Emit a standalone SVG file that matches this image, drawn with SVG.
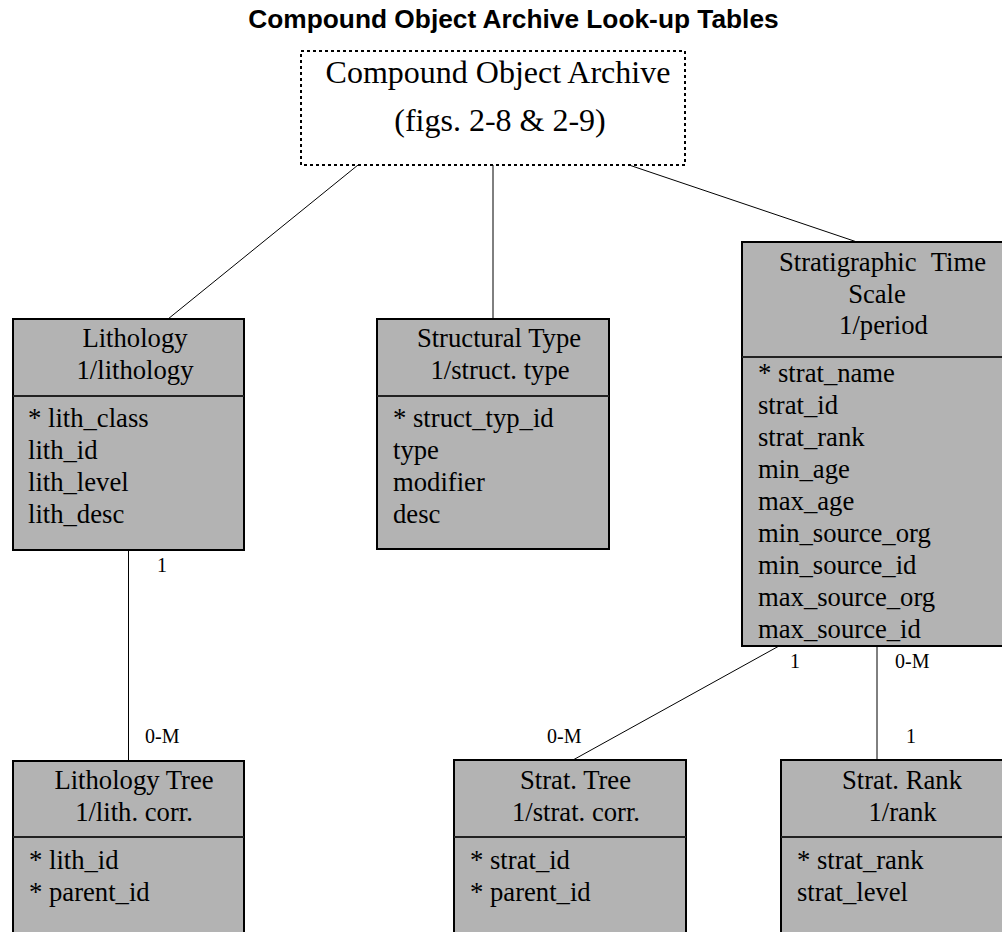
<svg xmlns="http://www.w3.org/2000/svg" width="1002" height="932" viewBox="0 0 1002 932">
<style>
.box{fill:#b3b3b3;stroke:#000;stroke-width:2}
.div{stroke:#222;stroke-width:2}
.t{font-family:"Liberation Serif","Times New Roman",serif;font-size:26.67px;fill:#000}
.c{text-anchor:middle}
.lbl{font-family:"Liberation Serif","Times New Roman",serif;font-size:20px;fill:#000}
.title{font-family:"Liberation Sans",Arial,sans-serif;font-size:26.3px;font-weight:bold;fill:#000;text-anchor:middle}
.conn{stroke:#000;stroke-width:1;fill:none}
</style>
<rect width="1002" height="932" fill="#fff"/>
<text class="title" x="513.5" y="28">Compound Object Archive Look-up Tables</text>

<g id="connectors">
<line class="conn" x1="358" y1="165" x2="168" y2="319"/>
<line class="conn" x1="493" y1="165" x2="493" y2="319"/>
<line class="conn" x1="629" y1="165" x2="857" y2="242"/>
<line class="conn" x1="128.5" y1="550" x2="128.5" y2="761"/>
<line class="conn" x1="779" y1="646" x2="573" y2="760"/>
<line class="conn" x1="877" y1="646" x2="877" y2="760"/>
<text class="lbl c" x="162" y="572">1</text>
<text class="lbl" x="145" y="743">0-M</text>
<text class="lbl c" x="795" y="668">1</text>
<text class="lbl" x="895" y="668">0-M</text>
<text class="lbl" x="547" y="743">0-M</text>
<text class="lbl c" x="911" y="743">1</text>
</g>

<g id="archive">
<rect x="301" y="51" width="384" height="114" fill="#fff" stroke="#000" stroke-width="2" stroke-dasharray="3 3"/>
<text class="t c" x="498" y="83" style="font-size:32px">Compound Object Archive</text>
<text class="t c" x="500" y="131" style="font-size:32px">(figs. 2-8 &amp; 2-9)</text>
</g>

<g id="lithology">
<rect class="box" x="13" y="319" width="231" height="231"/>
<line class="div" x1="13" y1="396" x2="244" y2="396"/>
<text class="t c" x="135" y="347">Lithology</text>
<text class="t c" x="135" y="379">1/lithology</text>
<text class="t" x="28" y="427">* lith_class</text>
<text class="t" x="28" y="459">lith_id</text>
<text class="t" x="28" y="491">lith_level</text>
<text class="t" x="28" y="523">lith_desc</text>
</g>

<g id="structural-type">
<rect class="box" x="377" y="319" width="232" height="230"/>
<line class="div" x1="377" y1="396" x2="609" y2="396"/>
<text class="t c" x="499" y="347">Structural Type</text>
<text class="t c" x="500" y="379">1/struct. type</text>
<text class="t" x="393" y="427">* struct_typ_id</text>
<text class="t" x="393" y="459">type</text>
<text class="t" x="393" y="491">modifier</text>
<text class="t" x="393" y="523">desc</text>
</g>

<g id="strat-time-scale">
<rect class="box" x="742" y="242" width="270" height="404"/>
<line class="div" x1="742" y1="357" x2="1012" y2="357"/>
<text class="t c" x="882.5" y="270.5" word-spacing="8">Stratigraphic Time</text>
<text class="t c" x="877" y="302.5">Scale</text>
<text class="t c" x="883.5" y="334">1/period</text>
<text class="t" x="758" y="382">* strat_name</text>
<text class="t" x="758" y="414">strat_id</text>
<text class="t" x="758" y="446">strat_rank</text>
<text class="t" x="758" y="478">min_age</text>
<text class="t" x="758" y="510">max_age</text>
<text class="t" x="758" y="542">min_source_org</text>
<text class="t" x="758" y="574">min_source_id</text>
<text class="t" x="758" y="606">max_source_org</text>
<text class="t" x="758" y="638">max_source_id</text>
</g>

<g id="lithology-tree">
<rect class="box" x="13" y="761" width="231" height="185"/>
<line class="div" x1="13" y1="837" x2="244" y2="837"/>
<text class="t c" x="134" y="789">Lithology Tree</text>
<text class="t c" x="134" y="821">1/lith. corr.</text>
<text class="t" x="29" y="869">* lith_id</text>
<text class="t" x="29" y="901">* parent_id</text>
</g>

<g id="strat-tree">
<rect class="box" x="454" y="760" width="232" height="186"/>
<line class="div" x1="454" y1="837" x2="686" y2="837"/>
<text class="t c" x="575.5" y="789">Strat. Tree</text>
<text class="t c" x="576" y="821">1/strat. corr.</text>
<text class="t" x="470" y="869">* strat_id</text>
<text class="t" x="470" y="901">* parent_id</text>
</g>

<g id="strat-rank">
<rect class="box" x="781" y="760" width="231" height="186"/>
<line class="div" x1="781" y1="837" x2="1012" y2="837"/>
<text class="t c" x="902" y="789">Strat. Rank</text>
<text class="t c" x="902.5" y="821">1/rank</text>
<text class="t" x="797" y="869">* strat_rank</text>
<text class="t" x="797" y="901">strat_level</text>
</g>
</svg>
